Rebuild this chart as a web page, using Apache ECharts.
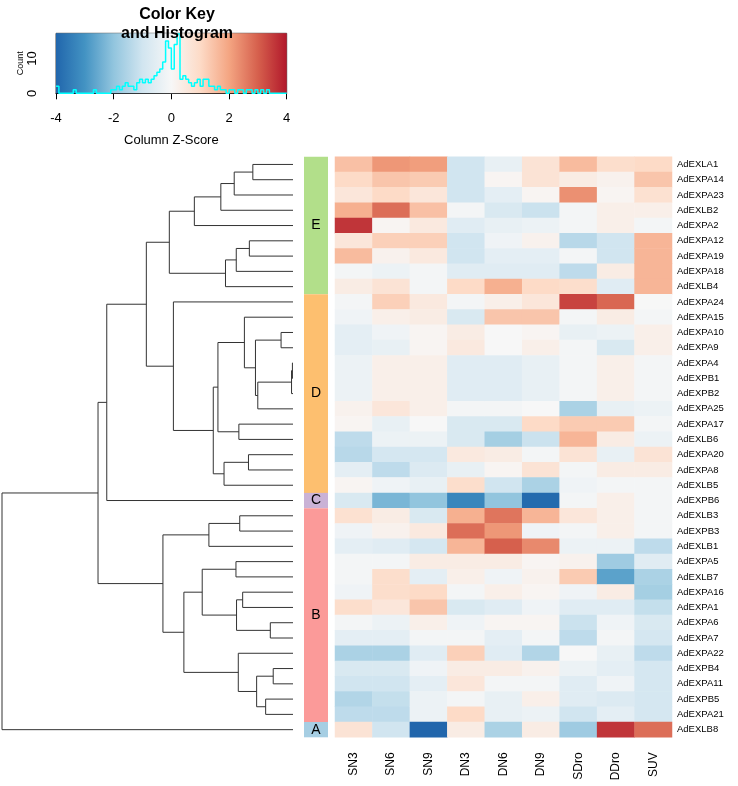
<!DOCTYPE html>
<html><head><meta charset="utf-8">
<script src="https://cdn.jsdelivr.net/npm/echarts@6/dist/echarts.min.js"></script>
<style>html,body{margin:0;padding:0;background:#fff}#c{width:738px;height:786px}</style>
</head><body><div id="c"></div>
<script>
// ---------- data ----------
const genes = ['AdEXLA1','AdEXPA14','AdEXPA23','AdEXLB2','AdEXPA2','AdEXPA12','AdEXPA19','AdEXPA18','AdEXLB4',
  'AdEXPA24','AdEXPA15','AdEXPA10','AdEXPA9','AdEXPA4','AdEXPB1','AdEXPB2','AdEXPA25','AdEXPA17','AdEXLB6',
  'AdEXPA20','AdEXPA8','AdEXLB5','AdEXPB6','AdEXLB3','AdEXPB3','AdEXLB1','AdEXPA5','AdEXLB7','AdEXPA16',
  'AdEXPA1','AdEXPA6','AdEXPA7','AdEXPA22','AdEXPB4','AdEXPA11','AdEXPB5','AdEXPA21','AdEXLB8'];
const samples = ['SN3','SN6','SN9','DN3','DN6','DN9','SDro','DDro','SUV'];

const SN3  = [1.5,1.0,0.6,1.8,3.6,0.6,1.6,-0.1,0.4,-0.1,-0.2,-0.5,-0.5,-0.3,-0.3,-0.3,0.2,0.1,-1.3,-1.4,-0.5,0.1,-0.8,0.8,-0.2,-0.5,-0.1,-0.1,-0.2,0.9,-0.1,-0.5,-1.6,-0.8,-1.0,-1.5,-1.3,0.7];
const SN6  = [2.2,1.4,1.0,2.8,0.1,1.2,0.2,-0.3,0.7,1.2,0.3,-0.2,-0.4,0.3,0.3,0.3,0.6,-0.4,-0.3,-0.9,-1.3,-0.2,-2.3,0.4,0.2,-0.6,-0.1,0.9,0.9,0.6,-0.3,-0.5,-1.6,-0.8,-1.0,-1.2,-1.3,-1.0];
const SN9  = [2.1,1.3,0.6,1.5,0.5,1.2,0.5,-0.1,-0.1,0.5,0.4,0.1,0.1,0.3,0.3,0.3,0.3,0.0,-0.3,-0.9,-0.7,-0.4,-2.0,-0.8,0.5,-0.9,0.4,-0.5,1.0,1.4,0.3,-0.1,-0.6,-0.2,-0.5,-0.3,-0.3,-4.0];
const DN3  = [-1.0,-1.0,-1.0,-0.1,-0.6,-1.0,-1.0,-0.6,1.0,-0.1,-0.8,0.4,0.5,-0.6,-0.6,-0.6,-0.1,-0.8,-0.8,0.5,-0.4,0.9,-3.3,1.8,2.8,1.7,0.4,0.3,-0.1,-0.8,-0.2,-0.1,1.2,0.4,0.6,-0.1,1.0,0.4];
const DN6  = [-0.4,0.1,-0.5,-0.8,-0.4,-0.2,-0.5,-0.6,1.8,0.3,1.4,0.0,0.0,-0.6,-0.6,-0.6,-0.1,-0.8,-1.7,0.4,0.1,-1.0,-2.0,2.7,2.2,3.0,0.4,-0.2,0.3,-0.6,0.1,-0.5,-0.6,0.4,-0.1,-0.4,-0.4,-1.6];
const DN9  = [0.7,0.7,0.1,-1.1,-0.3,0.2,-0.5,-0.6,1.0,0.6,1.4,0.1,0.3,-0.4,-0.4,-0.4,0.0,1.0,-1.1,-0.1,0.7,-1.6,-3.9,1.7,-0.2,2.4,0.1,0.2,0.1,-0.2,0.1,-0.1,-1.5,0.2,-0.1,0.3,-0.3,0.4];
const SDro = [1.6,0.4,2.3,-0.1,-0.1,-1.4,-0.1,-1.3,0.9,3.4,-0.1,-0.4,-0.1,-0.1,-0.1,-0.1,-1.6,1.3,1.7,0.7,-0.1,-0.2,-0.1,0.6,-0.1,-0.3,0.2,1.3,-0.2,-0.6,-1.1,-1.3,0.0,-0.3,-0.6,-0.6,-1.0,-1.8];
const DDro = [0.9,0.2,0.1,0.3,0.3,-1.0,-1.0,0.4,-0.6,2.9,0.4,-0.3,-0.8,0.3,0.3,0.3,-0.4,1.3,0.4,-0.4,0.4,-0.1,0.3,0.3,0.3,-0.3,-1.8,-2.7,0.4,-0.6,-0.2,-0.1,-0.4,-0.5,-0.2,-0.7,-0.5,3.6];
const SUV  = [1.0,1.4,0.8,0.3,-0.1,1.7,1.7,1.7,1.7,0.0,-0.1,0.3,0.3,-0.1,-0.1,-0.1,-0.3,-0.1,-0.3,0.7,0.4,-0.1,-0.1,-0.1,-0.1,-1.3,-0.6,-1.6,-1.7,-1.2,-0.8,-0.9,-1.3,-0.9,-0.9,-0.9,-0.9,2.8];
const sampleValues = [SN3, SN6, SN9, DN3, DN6, DN9, SDro, DDro, SUV];

// histogram of the colour key: counts in 0.1-wide bins from -4 to 4
const histCounts = [2,0,0,0,0,0,1,0,0,0,0,0,0,1,0,0,0,0,0,1,
  1,2,1,2,3,2,2,1,3,4,3,4,3,4,5,6,7,9,15,13,
  7,14,17,4,5,4,3,2,3,4,2,4,4,2,2,1,2,1,1,0,
  1,1,0,1,1,0,1,1,0,1,0,1,0,1,0,0,0,0,0,0];
const keyMin = -4, keyMax = 4, countMax = 17.2;
const keyTicks = [-4,-2,0,2,4];
const countTicks = [0,5,10,15];
const countLabels = [0,10];
const colorStops = ['#2166AC','#4393C3','#92C5DE','#D1E5F0','#F7F7F7','#FDDBC7','#F4A582','#D6604D','#B2182B'];

// row side colour groups
const groups = ['E','D','C','B','A'];
const groupFirst = ['AdEXLA1','AdEXPA24','AdEXPB6','AdEXLB3','AdEXLB8'];
const groupLast  = ['AdEXLB4','AdEXLB5','AdEXPB6','AdEXPA21','AdEXLB8'];
const groupColors = ['#B2DF8A','#FDBF6F','#CAB2D6','#FB9A99','#A6CEE3'];

// row dendrogram merges: [childA, childB, height]; string = leaf gene, number = earlier merge
const merges = [
  ['AdEXLA1','AdEXPA14',1.38], [0,'AdEXPA23',2.02], [1,'AdEXLB2',2.48], [2,'AdEXPA2',3.39],
  ['AdEXPA12','AdEXPA19',1.50], [4,'AdEXPA18',1.95], [5,'AdEXLB4',2.32], [3,6,4.25],
  ['AdEXPA10','AdEXPA9',0.41], ['AdEXPA4','AdEXPB1',0.02], [9,'AdEXPB2',0.05], [10,'AdEXPA25',1.21],
  [8,11,1.29], ['AdEXPA15',12,1.67], ['AdEXPA17','AdEXLB6',1.86], [13,14,2.58],
  ['AdEXPA20','AdEXPA8',1.53], [16,'AdEXLB5',2.37], [15,17,2.74], ['AdEXPA24',18,4.11],
  [7,19,5.04], [20,'AdEXPB6',6.40],
  ['AdEXLB3','AdEXPB3',1.83], [22,'AdEXLB1',2.89], ['AdEXPA5','AdEXLB7',1.96],
  ['AdEXPA16','AdEXPA1',1.73], ['AdEXPA6','AdEXPA7',0.78], [25,26,1.94], [24,27,3.12],
  ['AdEXPB4','AdEXPA11',0.68], ['AdEXPB5','AdEXPA21',0.94], [29,30,1.25], ['AdEXPA22',31,1.88],
  [28,32,3.75], [23,33,4.47], [21,34,6.70], [35,'AdEXLB8',10.0]
];

// ---------- build ----------
const rowIdx = {}; genes.forEach((g,i)=>rowIdx[g]=i);
const heatData = [];
sampleValues.forEach((col, ci) => col.forEach((v, ri) => heatData.push([ci, ri, v])));

const nodePos = [];
const segs = [];
const posOf = r => typeof r === 'string' ? {y: rowIdx[r], h: 0} : nodePos[r];
merges.forEach(([a,b,H], k) => {
  const pa = posOf(a), pb = posOf(b);
  segs.push([pa.h, pa.y, H, pa.y]);
  segs.push([H, pa.y, H, pb.y]);
  segs.push([H, pb.y, pb.h, pb.y]);
  nodePos[k] = {y: (pa.y + pb.y) / 2, h: H};
});
const sideData = groups.map((g,i)=>[rowIdx[groupFirst[i]], rowIdx[groupLast[i]], i]);
const histLine = histCounts.concat([histCounts[histCounts.length-1]]);

const FONT = '"Liberation Sans", Arial, Helvetica, sans-serif';
const HM_TOP = 156.8, HM_H = 580.5;

const chart = echarts.init(document.getElementById('c'), null, {renderer:'canvas'});
chart.setOption({
  animation: false,
  backgroundColor: '#fff',
  textStyle: {fontFamily: FONT, color: '#000'},
  title: {text: 'Color Key\nand Histogram', left: 172, top: 0, textAlign: 'center',
    textStyle: {fontSize: 16, fontWeight: 'bold', lineHeight: 19, color: '#000', fontFamily: FONT}},
  grid: [
    {left: 56, top: 33.3, width: 230.7, height: 60, show: true, borderColor: '#444', borderWidth: 1, backgroundColor: 'transparent'},
    {left: 2, top: HM_TOP, width: 291, height: HM_H},
    {left: 304, top: HM_TOP, width: 24, height: HM_H},
    {left: 335, top: HM_TOP, width: 337, height: HM_H}
  ],
  xAxis: [
    {gridIndex: 0, type: 'value', min: keyMin, max: keyMax, interval: 2,
      axisLine: {show: true, onZero: false, lineStyle: {color: '#000'}},
      axisTick: {show: true, length: 6, customValues: keyTicks, lineStyle: {color: '#000'}},
      axisLabel: {fontSize: 13, margin: 19, color: '#000', customValues: keyTicks},
      splitLine: {show: false},
      name: 'Column Z-Score', nameLocation: 'middle', nameGap: 41,
      nameTextStyle: {fontSize: 13, color: '#000'}},
    {gridIndex: 0, type: 'category', data: histLine.map((_, i) => i), boundaryGap: false, show: false},
    {gridIndex: 1, type: 'value', min: 0, max: 10, inverse: true, show: false},
    {gridIndex: 2, type: 'value', min: 0, max: 1, show: false},
    {gridIndex: 3, type: 'category', data: samples, position: 'bottom',
      axisLine: {show: false}, axisTick: {show: false},
      axisLabel: {rotate: 90, fontSize: 12, margin: 15, color: '#000'}}
  ],
  yAxis: [
    {gridIndex: 0, type: 'value', min: 0, max: countMax,
      axisLine: {show: true, lineStyle: {color: '#000'}},
      axisTick: {show: true, length: 5, customValues: countTicks, lineStyle: {color: '#000'}},
      axisLabel: {rotate: 90, fontSize: 13, margin: 17, color: '#000', customValues: countLabels},
      splitLine: {show: false},
      name: 'Count', nameLocation: 'middle', nameGap: 31, nameTextStyle: {fontSize: 9, color: '#000'}},
    {gridIndex: 1, type: 'value', min: -0.5, max: genes.length - 0.5, inverse: true, show: false},
    {gridIndex: 2, type: 'value', min: -0.5, max: genes.length - 0.5, inverse: true, show: false},
    {gridIndex: 3, type: 'category', data: genes, inverse: true, position: 'right',
      axisLine: {show: false}, axisTick: {show: false},
      axisLabel: {fontSize: 9.5, margin: 5, color: '#000'}}
  ],
  visualMap: {type: 'continuous', min: keyMin, max: keyMax, show: false, seriesIndex: 4,
    inRange: {color: colorStops}},
  series: [
    {type: 'custom', xAxisIndex: 0, yAxisIndex: 0, z: 1, silent: true,
      data: [[keyMin, keyMax]],
      renderItem: (params, api) => {
        const tl = api.coord([api.value(0), countMax]);
        const br = api.coord([api.value(1), 0]);
        return {type: 'rect', shape: {x: tl[0], y: tl[1], width: br[0]-tl[0], height: br[1]-tl[1]},
          style: {fill: new echarts.graphic.LinearGradient(0,0,1,0,
            colorStops.map((c,i)=>({offset: i/(colorStops.length-1), color: c})))}};
      }},
    {type: 'line', xAxisIndex: 1, yAxisIndex: 0, z: 3, data: histLine, step: 'end',
      symbol: 'none', lineStyle: {color: '#00FFFF', width: 1.5}, silent: true},
    {type: 'custom', xAxisIndex: 2, yAxisIndex: 1, silent: true, data: segs,
      encode: {x: [0,2], y: [1,3]},
      renderItem: (params, api) => {
        const p1 = api.coord([api.value(0), api.value(1)]);
        const p2 = api.coord([api.value(2), api.value(3)]);
        return {type: 'line', shape: {x1: p1[0], y1: p1[1], x2: p2[0], y2: p2[1]},
          style: {stroke: '#333', lineWidth: 1}};
      }},
    {type: 'custom', xAxisIndex: 3, yAxisIndex: 2, silent: true, data: sideData,
      encode: {y: [0,1]},
      renderItem: (params, api) => {
        const s = api.value(0), e = api.value(1), gi = api.value(2);
        const tl = api.coord([0, s - 0.5]);
        const br = api.coord([1, e + 0.5]);
        return {type: 'group', children: [
          {type: 'rect', shape: {x: tl[0], y: tl[1], width: br[0]-tl[0], height: br[1]-tl[1]},
            style: {fill: groupColors[gi]}},
          {type: 'text', x: (tl[0]+br[0])/2, y: (tl[1]+br[1])/2,
            style: {text: groups[gi], align: 'center', verticalAlign: 'middle', fontSize: 14,
              fill: '#000', fontFamily: FONT}}
        ]};
      }},
    {type: 'heatmap', xAxisIndex: 4, yAxisIndex: 3, data: heatData, silent: true,
      itemStyle: {borderWidth: 0}, emphasis: {disabled: true}}
  ]
});
</script>
</body></html>
